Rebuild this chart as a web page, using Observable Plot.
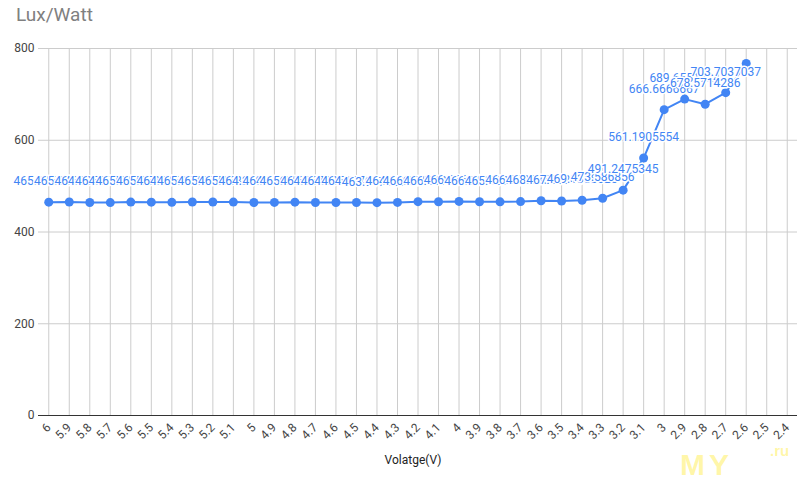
<!DOCTYPE html>
<html>
<head>
<meta charset="utf-8">
<script src="https://cdn.jsdelivr.net/npm/d3@7"></script>
<script src="https://cdn.jsdelivr.net/npm/@observablehq/plot@0.6"></script>
<style>
  html, body { margin: 0; padding: 0; background: #fff; }
  #wrap { position: relative; width: 800px; height: 480px; overflow: hidden; }
  #title { height: 30px; line-height: 30px; padding-left: 16px; font-family: Roboto, sans-serif; font-size: 19px; color: #808080; }
  svg text { paint-order: stroke; }
  .wm1 { position: absolute; left: 680px; top: 448px; font-family: "Liberation Sans", Arial, sans-serif; font-weight: bold; font-size: 30px; color: rgba(255, 236, 60, 0.45); letter-spacing: 4px; }
  .wm2 { position: absolute; left: 770px; top: 442px; font-family: "Liberation Sans", Arial, sans-serif; font-weight: bold; font-size: 15px; color: rgba(255, 236, 60, 0.45); }
</style>
</head>
<body>
<div id="wrap">
  <div id="title">Lux/Watt</div>
  <div id="chart"></div>
  <div class="wm1">MY</div>
  <div class="wm2">.ru</div>
</div>
<script>
// Categories (x axis, voltage)
const volts = ["6","5.9","5.8","5.7","5.6","5.5","5.4","5.3","5.2","5.1","5","4.9","4.8","4.7","4.6","4.5","4.4","4.3","4.2","4.1","4","3.9","3.8","3.7","3.6","3.5","3.4","3.3","3.2","3.1","3","2.9","2.8","2.7","2.6","2.5","2.4"];
// Lux/Watt series (values for 6 V down to 2.6 V)
const luxPerWatt = [465.1162791, 465.3465347, 464.2857143, 464.0776699, 465.2173913, 465.0537634, 464.6464646, 465.4545455, 465.2777778, 465.1685393, 464.2105263, 464.5161290, 465.1162791, 464.3678161, 464.2857143, 464.1975309, 463.9175258, 464.5161290, 466.1016949, 466.0194175, 466.6666667, 466.0194175, 465.7534247, 466.2921348, 468.0851064, 467.5324675, 469.1358025, 473.586856, 491.2475345, 561.1905554, 666.6666667, 689.6551724, 678.5714286, 703.7037037, 767.2];
// Y axis ticks
const yTicks = [0, 200, 400, 600, 800];
const xTitle = ["Volatge(V)"];

const data = luxPerWatt.map((v, i) => ({volt: volts[i], value: v}));
const blue = "#4285f4";
const yMax = yTicks[yTicks.length - 1];

const chart = Plot.plot({
  width: 800,
  height: 450,
  marginTop: 18,
  marginBottom: 65,
  marginLeft: 38,
  marginRight: 3,
  style: { fontFamily: "Roboto, sans-serif", fontSize: "12px", color: "#444", background: "white" },
  x: { type: "point", domain: volts, padding: 0.5, round: false, tickRotate: -45, tickSize: 0, tickPadding: 10, label: null },
  y: { domain: [0, yMax], ticks: yTicks, tickSize: 0, tickPadding: 4, label: null },
  marks: [
    Plot.ruleX(volts, { stroke: "#cccccc" }),
    Plot.ruleY(yTicks, { stroke: "#cccccc" }),
    Plot.ruleY([0], { stroke: "#333333" }),
    Plot.line(data, { x: "volt", y: "value", stroke: blue, strokeWidth: 2 }),
    Plot.dot(data, { x: "volt", y: "value", r: 4.5, fill: blue }),
    // labels that would not fit inside the plot area (above the top) are hidden, as in the reference
    Plot.text(data, { filter: d => d.value < yMax - 40, x: "volt", y: "value", text: d => String(d.value), dy: -21, fill: blue, stroke: "white", strokeWidth: 3, paintOrder: "stroke", fontSize: 12 }),
    Plot.text(xTitle, { text: d => d, frameAnchor: "bottom", dy: 48, dx: -5, fill: "#222", fontSize: 12 })
  ]
});
document.getElementById("chart").appendChild(chart);
</script>
</body>
</html>
